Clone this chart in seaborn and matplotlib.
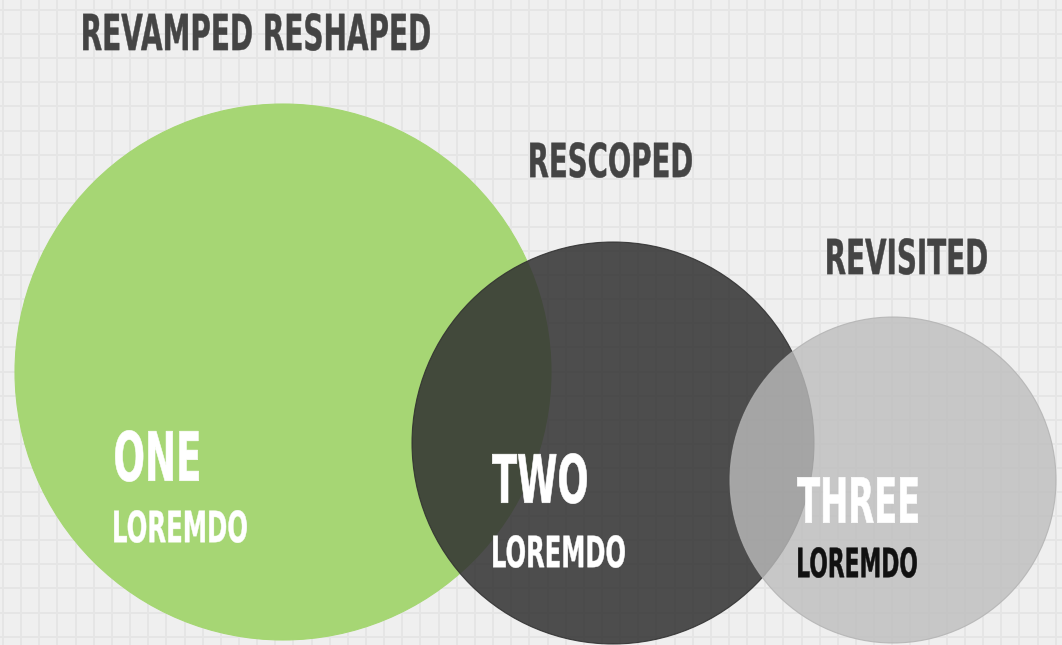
import numpy as np
import matplotlib.pyplot as plt
import matplotlib.patheffects as pe
from matplotlib.patches import Circle
from matplotlib.transforms import Affine2D
import seaborn as sns

# ==================================================
# DATA
# ==================================================

circle_names = ["ONE", "TWO", "THREE"]
circle_sub = ["LOREMDO", "LOREMDO", "LOREMDO"]
circle_x = [283, 613, 893]
circle_y = [372, 443, 480]
circle_r = [268, 201, 163]

headings = ["REVAMPED RESHAPED", "RESCOPED", "REVISITED"]


# ==================================================
# TEXT FITTING EFFECT (squeeze glyphs into a box)
# ==================================================

class FitBox(pe.AbstractPathEffect):

    def __init__(self, ax, box, lw=0.0):
        super().__init__()
        self.ax = ax
        self.box = box
        self.lw = lw

    def draw_path(self, renderer, gc, tpath, affine, rgbFace=None):
        src = tpath.get_extents(affine)
        left, top, right, bottom = self.box
        (x0, y0), (x1, y1) = self.ax.transData.transform([(left, bottom), (right, top)])
        pad = renderer.points_to_pixels(self.lw) / 2
        x0, x1 = x0 + pad, x1 - pad
        y0, y1 = y0 + pad, y1 - pad
        fit = (Affine2D().translate(-src.x0, -src.y0)
               .scale((x1 - x0) / src.width, (y1 - y0) / src.height)
               .translate(x0, y0))
        gc0 = renderer.new_gc()
        gc0.copy_properties(gc)
        gc0.set_linewidth(self.lw)
        gc0.set_foreground(rgbFace)
        gc0.set_joinstyle("miter")
        renderer.draw_path(gc0, tpath, affine + fit, rgbFace)
        gc0.restore()


# ==================================================
# STYLE
# ==================================================

sns.set_theme(style="whitegrid", rc={
    "axes.facecolor": "#efefef",
    "figure.facecolor": "#efefef",
    "grid.color": "#e5e5e5",
    "grid.linewidth": 1.3,
})
plt.rcParams["font.family"] = ["DejaVu Sans"]

fig = plt.figure(figsize=(10.62, 6.45), dpi=100)
ax = fig.add_axes([0, 0, 1, 1])
ax.set_xlim(0, 1062)
ax.set_ylim(645, 0)
ax.set_aspect("equal")
ax.set_xticks(np.arange(3, 1062, 18.15))
ax.set_yticks(np.arange(10, 645, 24.1))
ax.tick_params(length=0, labelbottom=False, labelleft=False)
for s in ax.spines.values():
    s.set_visible(False)
ax.set_axisbelow(True)

# ==================================================
# CIRCLES
# ==================================================

fills = ["#a4d670", "#323232", "#bdbdbd"]
alphas = [0.97, 0.86, 0.79]
edges = ["#a4d670", "#2e2e2e", "#b0b0b0"]

for i in range(len(circle_names)):
    ax.add_patch(Circle((circle_x[i], circle_y[i]), circle_r[i],
                        facecolor=fills[i], edgecolor=edges[i],
                        alpha=alphas[i], lw=0.8, zorder=2 + i))

# ==================================================
# TEXT
# ==================================================

heading_boxes = [(83, 13, 430, 51), (530, 142, 692, 178), (827, 238, 987, 275)]
name_boxes = [(115, 430, 199, 482), (492, 453, 587, 504), (797, 477, 918, 523)]
sub_boxes = [(114, 510, 247, 543), (493, 535, 625, 568), (798, 547, 917, 578)]
sub_colors = ["white", "white", "#111111"]

def put(label, box, color, lw, size):
    ax.text(box[0], box[3], label, color=color, fontsize=size,
            fontweight="bold", ha="left", va="baseline", zorder=10,
            path_effects=[FitBox(ax, box, lw)])

for i, h in enumerate(headings):
    put(h, heading_boxes[i], "#444444", 0.3, 18)

for i in range(len(circle_names)):
    put(circle_names[i], name_boxes[i], "white", 0.4, 24)
    put(circle_sub[i], sub_boxes[i], sub_colors[i], 0.3, 15)

plt.savefig("out.png", dpi=100)
